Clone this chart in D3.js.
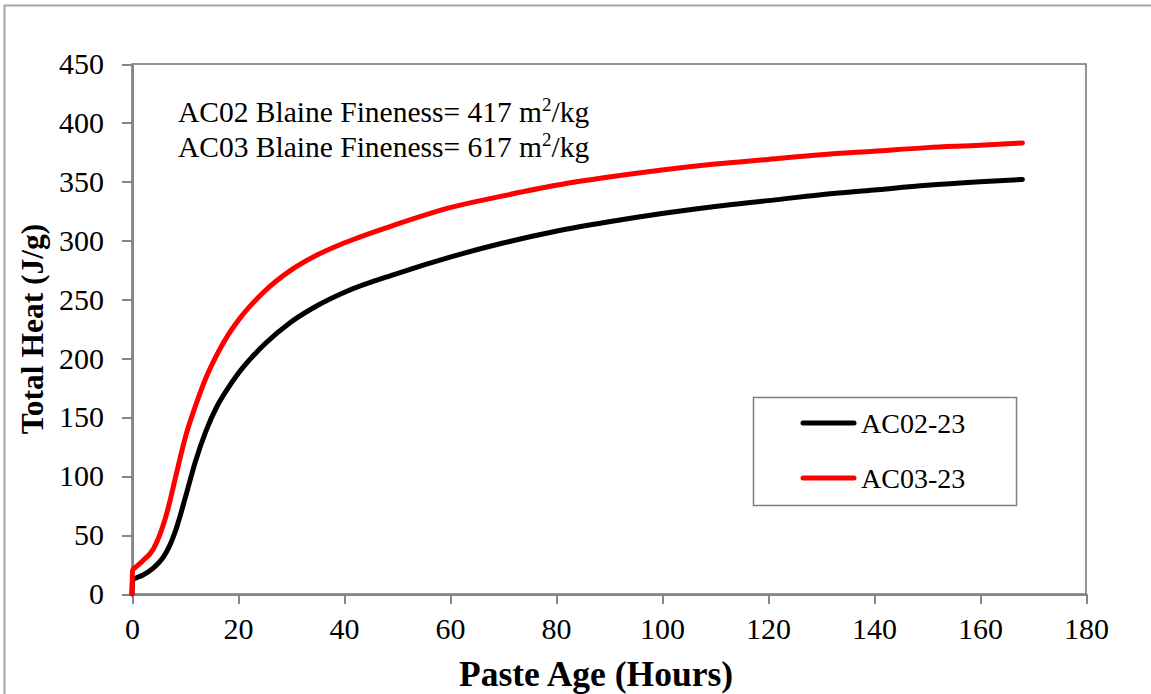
<!DOCTYPE html>
<html lang="en">
<head>
<meta charset="UTF-8">
<title>Total Heat vs Paste Age</title>
<style>
  body { margin: 0; background: #fff; }
  svg { display: block; font-family: "Liberation Serif", "Times New Roman", serif; }
  .axis path, .axis line { stroke: #868686; stroke-width: 2px; shape-rendering: crispEdges; }
  .axis text { font-size: 30px; fill: #000; font-family: "Liberation Serif", "Times New Roman", serif; }
  .series { fill: none; stroke-width: 5px; stroke-linecap: round; stroke-linejoin: round; }
</style>
</head>
<body>
<div id="chart"></div>
<script src="https://d3js.org/d3.v7.min.js"></script>
<script>
  // paste age (hours) and total heat (J/g)
  const hours = [0, 0.1, 1, 2, 4, 6, 7, 8, 9, 10, 12, 14, 16, 18, 20, 25, 30, 35, 40, 50, 60, 70, 80, 90, 100, 110, 120, 130, 140, 150, 160, 168];
  const ac02 = [0, 12, 14, 16, 22, 32, 40, 51, 65, 81, 113, 139, 159, 174, 187, 212, 231, 245, 256, 272, 286, 298, 308, 316, 323, 329, 334, 339, 343, 347, 350, 352];
  const ac03 = [0, 20, 24, 28, 38, 60, 76, 95, 114, 132, 160, 184, 203, 219, 232, 257, 275, 288, 298, 314, 328, 338, 347, 354, 360, 365, 369, 373, 376, 379, 381, 383];

  const seriesNames = ["AC02-23", "AC03-23"];
  const seriesColors = ["#000000", "#ff0000"];
  const xTicks = d3.range(0, 181, 20);
  const yTicks = d3.range(0, 451, 50);
  const notes = [["AC02 Blaine Fineness= 417 m", "2", "/kg"], ["AC03 Blaine Fineness= 617 m", "2", "/kg"]];

  const width = 1151, height = 694;
  const margin = { left: 132, top: 64, right: 65, bottom: 100 };
  const serif = "'Liberation Serif', 'Times New Roman', serif";

  const svg = d3.select("#chart").append("svg")
    .attr("width", width).attr("height", height);

  // outer chart border
  svg.append("rect")
    .attr("x", 4.5).attr("y", 5.5)
    .attr("width", width + 10).attr("height", height + 10)
    .attr("fill", "#fff").attr("stroke", "#a6a6a6").attr("stroke-width", 2);

  const x = d3.scaleLinear().domain([0, 180]).range([margin.left, width - margin.right]);
  const y = d3.scaleLinear().domain([0, 450]).range([height - margin.bottom, margin.top]);

  // plot area frame
  svg.append("rect")
    .attr("x", x(0)).attr("y", y(450))
    .attr("width", x(180) - x(0)).attr("height", y(0) - y(450))
    .attr("fill", "none").attr("stroke", "#6f6f6f").attr("stroke-width", 1.5);

  svg.append("g").attr("class", "axis")
    .attr("transform", `translate(0,${y(0)})`)
    .call(d3.axisBottom(x).tickValues(xTicks).tickSize(10).tickPadding(8).tickSizeOuter(0))
    .attr("font-family", serif)
    .selectAll("text").attr("dy", "0.9em");

  svg.append("g").attr("class", "axis")
    .attr("transform", `translate(${x(0)},0)`)
    .call(d3.axisLeft(y).tickValues(yTicks).tickSize(10).tickPadding(18).tickSizeOuter(0))
    .attr("font-family", serif);

  // axis titles
  svg.append("text")
    .attr("x", 596).attr("y", 686)
    .attr("text-anchor", "middle")
    .attr("font-family", serif)
    .attr("font-size", 35.5).attr("font-weight", "bold")
    .text("Paste Age (Hours)");

  svg.append("text")
    .attr("transform", `translate(43,${(y(0) + y(450)) / 2}) rotate(-90)`)
    .attr("text-anchor", "middle")
    .attr("font-family", serif)
    .attr("font-size", 31.5).attr("font-weight", "bold")
    .text("Total Heat (J/g)");

  // curves
  const line = d3.line()
    .x((d, i) => x(hours[i]))
    .y(d => y(d))
    .curve(d3.curveMonotoneX);

  [ac02, ac03].forEach((vals, k) => {
    svg.append("path")
      .datum(vals)
      .attr("class", "series")
      .attr("stroke", seriesColors[k])
      .attr("d", line);
  });

  // annotation
  notes.forEach((n, i) => {
    const t = svg.append("text")
      .attr("x", 178).attr("y", 122 + i * 35)
      .attr("font-family", serif)
      .attr("font-size", 29.5);
    t.append("tspan").text(n[0]);
    t.append("tspan").attr("dy", -11).attr("font-size", 19).text(n[1]);
    t.append("tspan").attr("dy", 11).text(n[2]);
  });

  // legend
  const lg = svg.append("g").attr("font-family", serif);
  lg.append("rect")
    .attr("x", 753.5).attr("y", 397.5).attr("width", 263).attr("height", 108)
    .attr("fill", "#fff").attr("stroke", "#7f7f7f").attr("stroke-width", 1.5);
  seriesNames.forEach((name, i) => {
    const ly = 423 + i * 55;
    lg.append("line")
      .attr("x1", 803).attr("x2", 854).attr("y1", ly).attr("y2", ly)
      .attr("stroke", seriesColors[i]).attr("stroke-width", 5).attr("stroke-linecap", "round");
    lg.append("text")
      .attr("x", 861).attr("y", ly + 10)
      .attr("font-size", 28)
      .text(name);
  });
</script>
</body>
</html>
